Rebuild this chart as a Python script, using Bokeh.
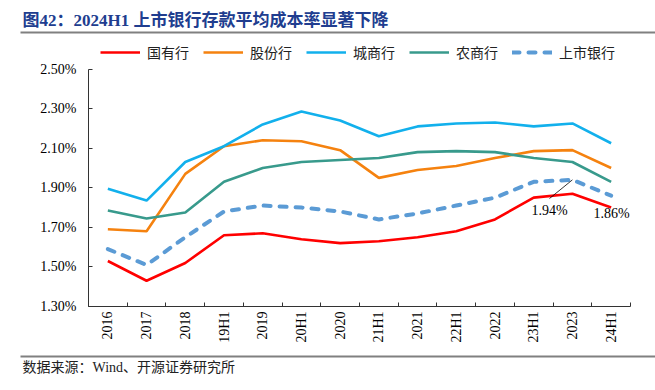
import math
from bokeh.plotting import figure
from bokeh.models import (Range1d, FixedTicker, PrintfTickFormatter, Legend, LegendItem,
                          Label, BoxAnnotation, Arrow, ColumnDataSource)
from bokeh.embed import file_html
from bokeh.resources import INLINE

# ---- data (deposit average cost rate, %) ----
categories = ["2016", "2017", "2018", "19H1", "2019", "20H1", "2020", "21H1",
              "2021", "22H1", "2022", "23H1", "2023", "24H1"]
state_owned = [1.53, 1.43, 1.52, 1.66, 1.67, 1.64, 1.62, 1.63, 1.65, 1.68, 1.74, 1.85, 1.87, 1.80]
joint_stock = [1.69, 1.68, 1.97, 2.11, 2.14, 2.135, 2.09, 1.95, 1.99, 2.01, 2.05, 2.085, 2.09, 2.00]
city_comm = [1.895, 1.835, 2.03, 2.11, 2.22, 2.285, 2.24, 2.16, 2.21, 2.225, 2.23, 2.21, 2.225, 2.125]
rural_comm = [1.785, 1.745, 1.775, 1.93, 2.00, 2.03, 2.04, 2.05, 2.08, 2.085, 2.08, 2.05, 2.03, 1.93]
listed_banks = [1.59, 1.51, 1.65, 1.78, 1.81, 1.80, 1.78, 1.74, 1.77, 1.81, 1.85, 1.93, 1.94, 1.86]
series_names = ["国有行", "股份行", "城商行", "农商行", "上市银行"]
y_ticks = [1.30, 1.50, 1.70, 1.90, 2.10, 2.30, 2.50]
title_text = "图42：2024H1 上市银行存款平均成本率显著下降"
source_text = "数据来源：Wind、开源证券研究所"

SERIF = "Liberation Serif, Noto Sans CJK SC"
CJK = "Noto Sans CJK SC"

# ---- layout (canvas pixels) ----
W, H = 655, 390
AX_LEFT, AX_RIGHT = 88, 630      # axis box left/right in canvas px
AX_TOP, AX_BOTTOM = 68.5, 306    # axis box top/bottom in canvas px (from top)

n = len(categories)
xs = [i + 0.5 for i in range(n)]
y0, y1 = y_ticks[0], y_ticks[-1]
ppx = (AX_RIGHT - AX_LEFT) / n
ppy = (AX_BOTTOM - AX_TOP) / (y1 - y0)
x_range = Range1d(-AX_LEFT / ppx, n + (W - AX_RIGHT) / ppx)
y_range = Range1d(y0 - (H - AX_BOTTOM) / ppy, y1 + AX_TOP / ppy)

p = figure(width=W, height=H, output_backend="svg", toolbar_location=None,
           x_range=x_range, y_range=y_range,
           min_border_left=0, min_border_right=0, min_border_top=0, min_border_bottom=0)
p.outline_line_color = None
p.xgrid.visible = False
p.ygrid.visible = False
p.background_fill_color = "white"
p.border_fill_color = "white"

src = ColumnDataSource(dict(x=xs, so=state_owned, js=joint_stock, cc=city_comm,
                            rc=rural_comm, lb=listed_banks))

r1 = p.line("x", "so", source=src, line_color="#ff0000", line_width=2.6)
r2 = p.line("x", "js", source=src, line_color="#f5820f", line_width=2.6)
r3 = p.line("x", "cc", source=src, line_color="#12b0ec", line_width=2.6)
r4 = p.line("x", "rc", source=src, line_color="#389a8c", line_width=2.6)
r5 = p.line("x", "lb", source=src, line_color="#5b9bd5", line_width=4,
            line_dash="7 9", line_cap="round")

# ---- axes (fixed inside the canvas) ----
xa = p.xaxis[0]
xa.fixed_location = y0
xa.bounds = (0, n)
xa.ticker = FixedTicker(ticks=xs, minor_ticks=list(range(n + 1)))
xa.major_label_overrides = {x: c for x, c in zip(xs, categories)}
xa.major_tick_in = 0
xa.major_tick_out = 0
xa.minor_tick_in = 4
xa.minor_tick_out = 0
xa.major_label_orientation = math.pi / 2
xa.major_label_standoff = 5
xa.major_label_text_font = SERIF
xa.major_label_text_font_size = "14px"
xa.major_label_text_color = "black"
xa.axis_line_color = "#333333"
xa.minor_tick_line_color = "#333333"

ya = p.yaxis[0]
ya.fixed_location = 0
ya.bounds = (y0, y1)
ya.ticker = FixedTicker(ticks=y_ticks, minor_ticks=[])
ya.formatter = PrintfTickFormatter(format="%.2f%%")
ya.major_tick_in = 4
ya.major_tick_out = 0
ya.major_label_standoff = 12
ya.major_label_text_font = SERIF
ya.major_label_text_font_size = "14px"
ya.major_label_text_color = "black"
ya.axis_line_color = "#333333"
ya.major_tick_line_color = "#333333"

# ---- legend ----
legend = Legend(items=[LegendItem(label=nm, renderers=[r]) for nm, r in
                       zip(series_names, [r1, r2, r3, r4, r5])],
                orientation="horizontal", location=(100, 328),
                glyph_width=40, glyph_height=20, label_standoff=7, spacing=14,
                padding=0, margin=0, border_line_alpha=0, background_fill_alpha=0,
                label_text_font=CJK, label_text_font_size="14px", label_text_color="#222222")
p.add_layout(legend, "center")

# ---- title / source ----
p.add_layout(Label(x=22, y=370, x_units="screen", y_units="screen", text=title_text,
                   text_font=SERIF, text_font_size="17px", text_font_style="bold",
                   text_color="#203d8f", text_baseline="middle", text_align="left"))
p.add_layout(BoxAnnotation(left=20, right=655, top=359, bottom=357,
                           left_units="screen", right_units="screen",
                           top_units="screen", bottom_units="screen",
                           fill_color="#808080", fill_alpha=1, line_alpha=0))
p.add_layout(BoxAnnotation(left=20, right=655, top=35, bottom=33,
                           left_units="screen", right_units="screen",
                           top_units="screen", bottom_units="screen",
                           fill_color="#808080", fill_alpha=1, line_alpha=0))
p.add_layout(Label(x=22, y=23, x_units="screen", y_units="screen", text=source_text,
                   text_font=SERIF, text_font_size="14px", text_color="#222222",
                   text_baseline="middle", text_align="left"))

# ---- data labels ----
i23 = categories.index("2023")
i24 = categories.index("24H1")
p.add_layout(Arrow(end=None, x_start=549, y_start=192, start_units="screen",
                   x_end=xs[i23], y_end=listed_banks[i23], end_units="data",
                   line_color="black", line_width=0.8))
p.add_layout(Label(x=549, y=180, x_units="screen", y_units="screen",
                   text=f"{listed_banks[i23]:.2f}%", text_font=SERIF, text_font_size="14px",
                   text_color="black", text_align="center", text_baseline="middle"))
p.add_layout(Label(x=611, y=177, x_units="screen", y_units="screen",
                   text=f"{listed_banks[i24]:.2f}%", text_font=SERIF, text_font_size="14px",
                   text_color="black", text_align="center", text_baseline="middle"))

open("out.html", "w").write(file_html(p, INLINE))
